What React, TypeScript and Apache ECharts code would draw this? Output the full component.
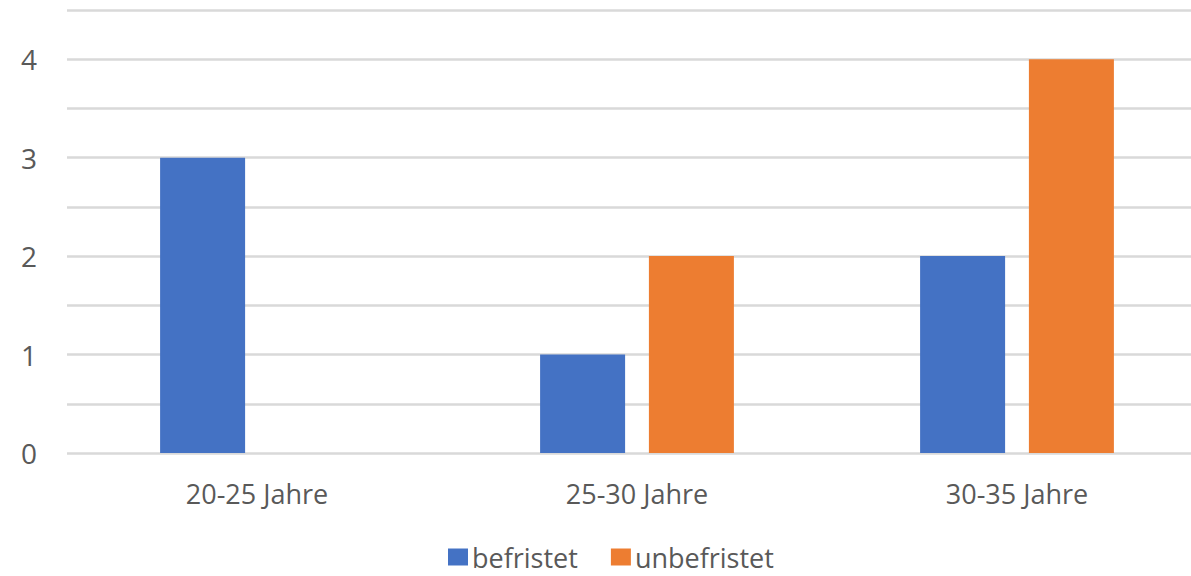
import React, { useEffect, useRef } from "react";
import * as echarts from "echarts";

const categories = ["20-25 Jahre", "25-30 Jahre", "30-35 Jahre"];
const befristet = [3, 1, 2];
const unbefristet = [0, 2, 4];
const seriesNames = ["befristet", "unbefristet"];
const colors = ["#4472C4", "#ED7D31"];

const FONT = "'Open Sans', 'Noto Sans', sans-serif";
const TEXT = "#595959";

// The plot area runs slightly past the right edge of the visible frame.
const VIEW_W = 1191;
const VIEW_H = 576;
const CHART_W = 1207;

export default function App() {
  const ref = useRef<HTMLDivElement>(null);

  useEffect(() => {
    document.body.style.margin = "0";
    const chart = echarts.init(ref.current!, null, { renderer: "svg" });
    chart.setOption({
      animation: false,
      color: colors,
      grid: { left: 67, right: 0, top: 10, bottom: 123, containLabel: false },
      legend: {
        top: 543,
        left: 448,
        padding: 0,
        itemWidth: 20,
        itemHeight: 17,
        itemGap: 33,
        icon: "rect",
        textStyle: {
          fontFamily: FONT,
          fontSize: 27,
          lineHeight: 28,
          color: TEXT,
          padding: [0, 0, 0, -1],
        },
        data: seriesNames,
      },
      xAxis: {
        type: "category",
        data: categories,
        axisLine: { show: false },
        axisTick: { show: false },
        axisLabel: { fontFamily: FONT, fontSize: 27, color: TEXT, margin: 27 },
      },
      yAxis: {
        type: "value",
        min: 0,
        max: 4.5,
        interval: 0.5,
        axisLine: { show: false },
        axisTick: { show: false },
        splitLine: { lineStyle: { color: "#D9D9D9", width: 2.5 } },
        axisLabel: {
          fontFamily: FONT,
          fontSize: 28,
          color: TEXT,
          margin: 30,
          formatter: (v: number) => (Number.isInteger(v) ? String(v) : ""),
        },
      },
      series: [
        { name: seriesNames[0], type: "bar", data: befristet, barWidth: 85, barGap: "28%" },
        { name: seriesNames[1], type: "bar", data: unbefristet, barWidth: 85, barGap: "28%" },
      ],
    });
    return () => chart.dispose();
  }, []);

  return (
    <div style={{ width: VIEW_W, height: VIEW_H, overflow: "hidden", position: "relative" }}>
      <div ref={ref} style={{ width: CHART_W, height: VIEW_H }} />
    </div>
  );
}
